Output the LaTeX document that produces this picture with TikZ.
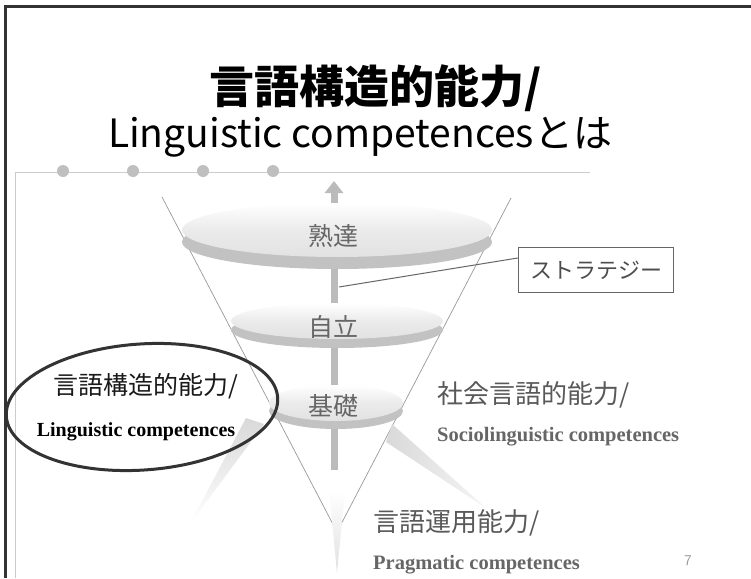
\documentclass[tikz,border=0pt]{standalone}
\usepackage{fontspec}
\setmainfont{Liberation Serif}
\newfontfamily\jp{Noto Sans CJK JP}
\usetikzlibrary{positioning,shapes.geometric,arrows.meta}

\definecolor{discface}{HTML}{E2E2E2}
\definecolor{discrim}{HTML}{C2C2C2}
\definecolor{stemgray}{HTML}{BBBBBB}

% one disc of the funnel: centre x, centre y, x radius, y radius, rim depth
\newcommand{\drawdisc}[5]{%
  \fill[discrim] (#1,#2+#5) ellipse [x radius=#3, y radius=#4];
  \shade[top color=white, bottom color=discface, middle color=discface!70!white]
    (#1,#2) ellipse [x radius=#3, y radius=#4];
}

\begin{document}
\begin{tikzpicture}[x=1pt,y=-1pt,
    frame/.style={line width=2.2pt, black!80},
    guide/.style={black!20, line width=1pt},
    funnel/.style={black!40, line width=0.7pt},
    disclabel/.style={font=\jp\fontsize{25}{25}\selectfont, text=black!60},
    jplabel/.style={font=\jp\fontsize{26}{26}\selectfont, inner sep=0pt},
    enlabel/.style={font=\bfseries\fontsize{20.5}{20.5}\selectfont, inner sep=0pt}]
    \useasboundingbox (0,0) rectangle (751,578);
    \fill[white] (0,0) rectangle (751,578);
    % slide frame
    \draw[frame] (5.5,578) -- (5.5,6.5) -- (751,6.5);
    %% title
    \node[font=\jp\bfseries\fontsize{45}{45}\selectfont] (title) at (376,88) {言語構造的能力/};
    \node[font=\jp\fontsize{39}{39}\selectfont] (subtitle) at (360,137) {Linguistic competencesとは};
    %% guide line with dots
    \draw[guide] (15,578) -- (15,172) -- (590,172);
    \foreach \x in {63,133,203,273}
        \fill[black!25] (\x,171) circle (6);
    %% funnel
    \coordinate (tip) at (337,532);
    \draw[funnel] (162,197) -- (tip) -- (511,198);
    % light beams out of the funnel
    \shade[top color=black!15, bottom color=white] (246,418) -- (264,424) -- (190,524) -- cycle;
    \shade[left color=black!15, right color=black!4] (392,424) -- (486,508) -- (386,442) -- cycle;
    \shade[top color=white, bottom color=black!12] (329,490) -- (345,490) -- (337,573) -- cycle;
    %% stem with arrow
    \draw[stemgray, line width=7pt, -{Triangle[width=18pt,length=12pt]}] (334,470) -- (334,181);
    %% discs
    \drawdisc{337}{230}{155}{27}{12}
    \drawdisc{337}{321}{106}{18}{9}
    \drawdisc{336}{403}{67}{18}{8}
    \node[disclabel] (mastery) at (333,236) {熟達};
    \node[disclabel] (autonomy) at (333,327) {自立};
    \node[disclabel] (basics) at (333,406) {基礎};
    %% strategy box
    \node[draw=black!60, line width=1.5pt, minimum width=155pt, minimum height=45pt,
          font=\jp\fontsize{22}{22}\selectfont, text=black!70] (strat) at (596,270) {ストラテジー};
    \coordinate (hook) at (339,287);
    \draw[black!60, line width=1pt] (hook) -- ([yshift=12pt]strat.west);
    %% linguistic competences
    \node[draw=black!80, line width=3pt, ellipse, minimum width=272pt, minimum height=126pt,
          rotate=4] (lingoval) at (142,407) {};
    \node[jplabel, text=black!90, font=\jp\fontsize{25}{25}\selectfont] (lingjp) at (146,386) {言語構造的能力/};
    \node[enlabel, font=\bfseries\fontsize{20}{20}\selectfont] (lingen) at (136,432) {Linguistic competences};
    %% sociolinguistic competences
    \node[jplabel, text=black!65, anchor=west] (sociojp) at (437,395) {社会言語的能力/};
    \node[enlabel, text=black!60, anchor=west] (socioen) at (437,437) {Sociolinguistic competences};
    %% pragmatic competences
    \node[jplabel, text=black!65, anchor=west] (pragjp) at (373,523) {言語運用能力/};
    \node[enlabel, text=black!60, anchor=west] (pragen) at (373,565) {Pragmatic competences};
    % page number
    \node[text=black!40, font=\sffamily\fontsize{15}{15}\selectfont] (pageno) at (688,561) {7};
\end{tikzpicture}
\end{document}
